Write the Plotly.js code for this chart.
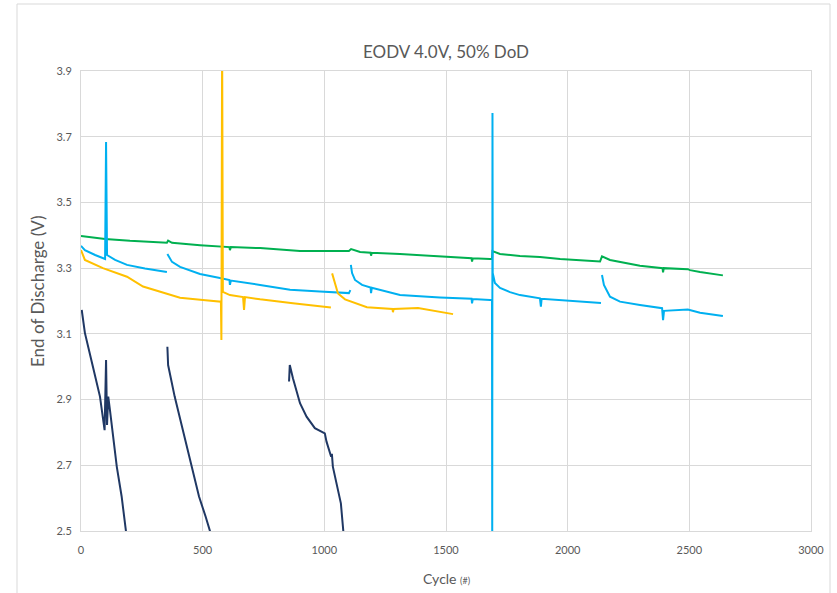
<!DOCTYPE html>
<html>
<head>
<meta charset="utf-8">
<script src="https://cdn.plot.ly/plotly-3.0.1.min.js"></script>
<style>html,body{margin:0;padding:0;background:#fff;}#chart{width:837px;height:593px;}</style>
</head>
<body>
<div id="chart"></div>
<script>
// Green series
const greenX = [0,58,99,201,353,358,374,489,579,610,612,616,736,900,1101,1110,1147,1190,1192,1195,1311,1475,1605,1607,1610,1681,1689,1691,1722,1804,1886,1969,2133,2141,2174,2297,2390,2392,2395,2494,2503,2544,2638];
const greenY = [3.398,3.392,3.389,3.383,3.377,3.384,3.377,3.370,3.367,3.364,3.355,3.364,3.361,3.352,3.352,3.358,3.349,3.347,3.338,3.347,3.343,3.337,3.330,3.320,3.330,3.328,3.328,3.352,3.343,3.337,3.334,3.328,3.320,3.336,3.325,3.307,3.300,3.287,3.300,3.297,3.294,3.288,3.278];

// Light blue series (null = break between test runs)
const blueX = [0,16,58,99,103,107,140,189,263,353,null,
  355,374,407,489,571,610,612,616,736,859,982,1101,1107,null,
  1109,1114,1126,1155,1190,1192,1195,1311,1475,1605,1607,1610,1681,1689,1690,1691,1692,
  1701,1722,1763,1804,1886,1890,1893,1969,2051,2137,null,
  2141,2149,2174,2215,2297,2388,2392,2396,2494,2544,2638];
const blueY = [3.368,3.355,3.340,3.328,3.684,3.340,3.325,3.310,3.299,3.288,null,
  3.343,3.319,3.304,3.282,3.270,3.264,3.249,3.262,3.249,3.234,3.229,3.224,3.233,null,
  3.310,3.285,3.264,3.249,3.241,3.224,3.240,3.218,3.211,3.207,3.193,3.206,3.203,3.203,2.45,3.772,3.285,
  3.255,3.240,3.227,3.218,3.208,3.183,3.207,3.203,3.199,3.194,null,
  3.279,3.249,3.213,3.198,3.188,3.178,3.142,3.170,3.174,3.164,3.154];

// Orange series
const orangeX = [0,16,90,189,255,325,407,501,575,577,580,583,612,666,670,674,736,871,1027,null,
  1032,1056,1085,1175,1280,1282,1285,1385,1529];
const orangeY = [3.355,3.325,3.300,3.274,3.244,3.228,3.210,3.203,3.198,3.081,4.0,3.228,3.218,3.212,3.173,3.212,3.205,3.193,3.180,null,
  3.284,3.223,3.205,3.181,3.176,3.166,3.176,3.179,3.160];

// Dark navy series
const navyX = [3,16,49,78,97,103,107,112,119,147,167,184,188,null,
  355,358,385,433,459,485,512,530,534,null,
  855,858,871,900,927,961,1002,1009,1028,1031,1035,1048,1068,1078,1081];
const navyY = [3.173,3.103,3.000,2.909,2.807,3.020,2.823,2.909,2.868,2.696,2.605,2.500,2.48,null,
  3.061,3.005,2.909,2.767,2.686,2.605,2.544,2.50,2.48,null,
  2.955,3.005,2.965,2.889,2.848,2.813,2.797,2.772,2.726,2.735,2.696,2.650,2.584,2.50,2.48];

const xTicks = [0,500,1000,1500,2000,2500,3000];
const yTicks = [2.5,2.7,2.9,3.1,3.3,3.5,3.7,3.9];

const FONT = 'Lato, "Open Sans", sans-serif';
const GREY = '#595959';

function tr(x, y, color, w) {
  return {x: x, y: y, type: 'scatter', mode: 'lines', connectgaps: false,
          line: {color: color, width: w}, hoverinfo: 'skip'};
}

const data = [
  tr(navyX, navyY, '#203864', 2),
  tr(greenX, greenY, '#00B050', 2),
  tr(blueX, blueY, '#00B0F0', 2),
  tr(orangeX, orangeY, '#FFC000', 2)
];

const axisCommon = {
  showgrid: true, gridcolor: '#d9d9d9', gridwidth: 1,
  zeroline: false, showline: true, linecolor: '#d9d9d9', linewidth: 1, mirror: true,
  ticks: '', tickfont: {family: FONT, size: 11, color: GREY}, fixedrange: true
};

const layout = {
  width: 837, height: 593,
  margin: {l: 81, r: 26, t: 71, b: 62},
  paper_bgcolor: '#ffffff', plot_bgcolor: '#ffffff',
  showlegend: false, hovermode: false,
  font: {family: FONT, color: GREY},
  title: {text: 'EODV 4.0V, 50% DoD', font: {family: FONT, size: 17, color: GREY},
          x: 0.5, xref: 'paper', y: 1 - 52/593, yref: 'container', yanchor: 'middle'},
  xaxis: Object.assign({}, axisCommon, {range: [0, 3000], tickvals: xTicks,
          ticktext: xTicks.map(String), ticklabelstandoff: 9}),
  yaxis: Object.assign({}, axisCommon, {range: [2.5, 3.9], tickvals: yTicks,
          ticktext: yTicks.map(v => v.toFixed(1)), ticklabelstandoff: 6}),
  annotations: [
    {text: 'End of Discharge (V)', textangle: -90, xref: 'paper', yref: 'paper',
     x: (37 - 81) / 730, y: (531 - 292) / 460, xanchor: 'center', yanchor: 'middle', showarrow: false,
     font: {family: FONT, size: 17, color: GREY}},
    {text: 'Cycle <span style="font-size:9px">(#)</span>', xref: 'paper', yref: 'paper',
     x: 0.5, y: (531 - 578) / 460, xanchor: 'center', yanchor: 'middle', showarrow: false,
     font: {family: FONT, size: 14, color: GREY}}
  ],
  shapes: [
    {type: 'rect', xref: 'paper', yref: 'paper', x0: (17 - 81) / 730, x1: (830 - 81) / 730,
     y0: (531 - 620) / 460, y1: (531 - 4) / 460, line: {color: '#d9d9d9', width: 1}, layer: 'below'}
  ]
};

Plotly.newPlot('chart', data, layout, {staticPlot: true, displayModeBar: false});
</script>
</body>
</html>
